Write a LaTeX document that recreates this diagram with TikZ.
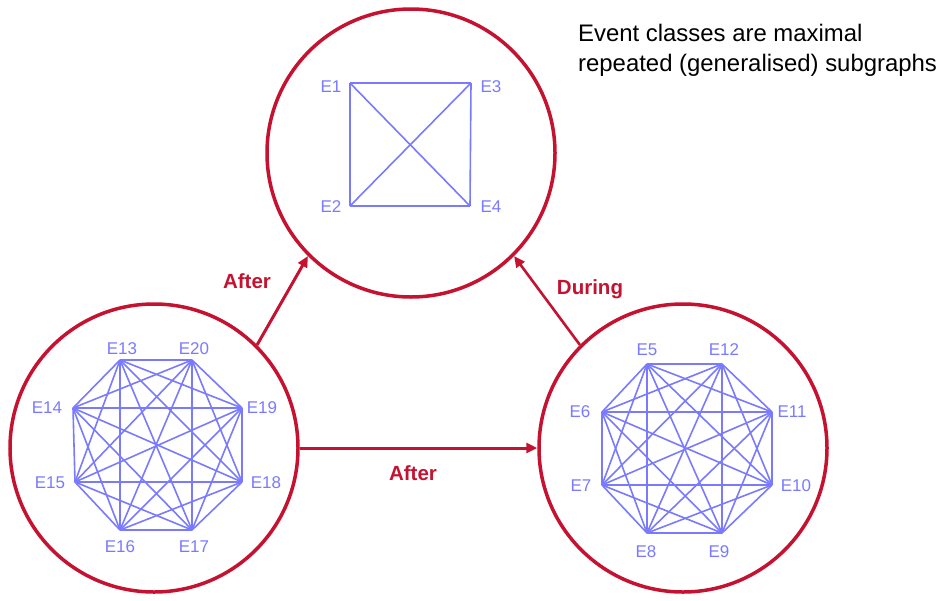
\documentclass[tikz,border=0pt]{standalone}
\usepackage{fontspec}
\setmainfont{Liberation Sans}
\usetikzlibrary{arrows.meta}
\definecolor{evred}{RGB}{196,18,48}
\definecolor{evblue}{RGB}{122,122,255}
\begin{document}
\begin{tikzpicture}[x=1pt,y=-1pt,
 classcircle/.style={circle, draw=evred, line width=3.5pt, minimum size=288pt, inner sep=0pt},
 rel/.style={draw=evred, line width=3pt, -{Triangle[length=11pt,width=10pt]}},
 rellabel/.style={text=evred, font=\fontsize{20.5}{24}\selectfont\bfseries, inner sep=0pt},
 evedge/.style={draw=evblue, line width=1.6pt},
 evlabel/.style={text=evblue, font=\fontsize{17}{20}\selectfont, inner sep=0pt}]

\useasboundingbox (0,0) rectangle (942,600);

% class circles
\node[classcircle] (top) at (411,153) {};
\node[classcircle] (left) at (154,448) {};
\node[classcircle] (right) at (683,448) {};

% top square
\coordinate (v1) at (350,83);
\coordinate (v3) at (471,83);
\coordinate (v2) at (350,206);
\coordinate (v4) at (470,206);
\node[evlabel] (l1) at (331,87) {E1};
\node[evlabel] (l3) at (491,87) {E3};
\node[evlabel] (l2) at (331,207) {E2};
\node[evlabel] (l4) at (491,207) {E4};
\foreach \a/\b in {1/3,3/4,4/2,2/1,1/4,2/3} \draw[evedge] (v\a) -- (v\b);

% left octagon
\coordinate (v13) at (120,360);
\coordinate (v20) at (192,360);
\coordinate (v19) at (242,408);
\coordinate (v18) at (242,482);
\coordinate (v17) at (192,530);
\coordinate (v16) at (120,530);
\coordinate (v15) at (75,482);
\coordinate (v14) at (73,408);
\node[evlabel] (l13) at (122,349) {E13};
\node[evlabel] (l20) at (194,349) {E20};
\node[evlabel] (l19) at (262,408) {E19};
\node[evlabel] (l14) at (47,408) {E14};
\node[evlabel] (l15) at (50,483) {E15};
\node[evlabel] (l18) at (266,483) {E18};
\node[evlabel] (l16) at (120,547) {E16};
\node[evlabel] (l17) at (194,547) {E17};
\foreach \a [count=\i] in {13,14,15,16,17,18,19,20}
  \foreach \b [count=\j] in {13,14,15,16,17,18,19,20}
    {\ifnum\j>\i \draw[evedge] (v\a) -- (v\b);\fi}

% right octagon
\coordinate (v5) at (647,364);
\coordinate (v12) at (722,364);
\coordinate (v11) at (772,412);
\coordinate (v10) at (772,485);
\coordinate (v9) at (722,533);
\coordinate (v8) at (647,533);
\coordinate (v7) at (602,485);
\coordinate (v6) at (602,412);
\node[evlabel] (l5) at (647,350) {E5};
\node[evlabel] (l12) at (724,350) {E12};
\node[evlabel] (l11) at (792,412) {E11};
\node[evlabel] (l6) at (580,412) {E6};
\node[evlabel] (l7) at (581,486) {E7};
\node[evlabel] (l10) at (796,486) {E10};
\node[evlabel] (l8) at (646,552) {E8};
\node[evlabel] (l9) at (719,552) {E9};
\foreach \a [count=\i] in {5,6,7,8,9,10,11,12}
  \foreach \b [count=\j] in {5,6,7,8,9,10,11,12}
    {\ifnum\j>\i \draw[evedge] (v\a) -- (v\b);\fi}

% relations
\draw[rel] (left.45) -- (top.225);
\draw[rel, line width=2.6pt] (right.135) -- (top.-45);
\draw[rel] (left.east) -- (right.west);
\node[rellabel] (a1) at (247,281) {After};
\node[rellabel] (d1) at (590,289) {During};
\node[rellabel] (a2) at (413,473) {After};

% caption
\node[anchor=north west, align=left, inner sep=0pt,
      font=\fontsize{23.9}{30}\selectfont] (note) at (578,24)
  {Event classes are maximal\\repeated (generalised) subgraphs};
\end{tikzpicture}
\end{document}
